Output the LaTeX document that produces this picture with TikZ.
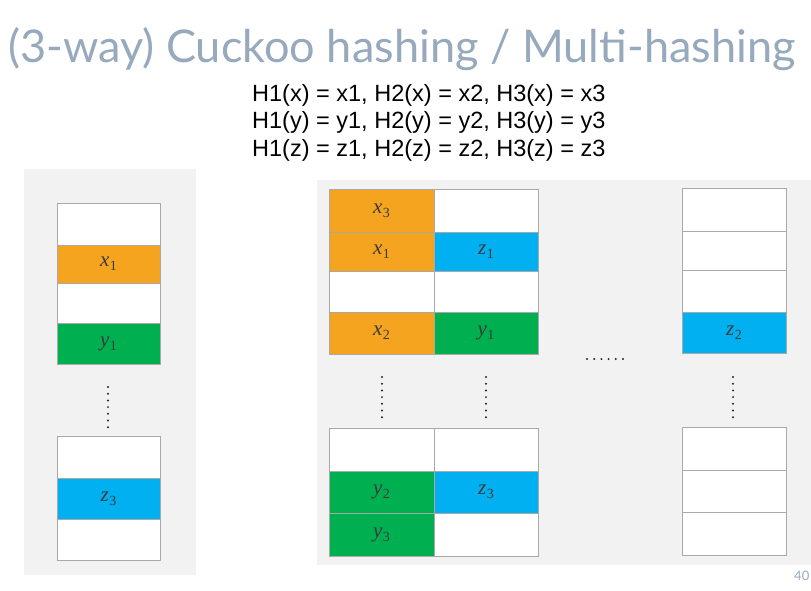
\documentclass[tikz,border=0pt]{standalone}
\usepackage{fontspec}
\newfontfamily\titlefont{Lato}
\newfontfamily\eqfont{Liberation Sans}
\newfontfamily\lblfont{Liberation Serif}
\definecolor{titlec}{HTML}{97AABD}
\definecolor{panelc}{HTML}{F2F2F2}
\definecolor{borderc}{HTML}{A9A9A9}
\definecolor{orangec}{HTML}{F4A41F}
\definecolor{greenc}{HTML}{00B050}
\definecolor{bluec}{HTML}{00B0F0}
\definecolor{labelc}{HTML}{3A3A3A}
\newcommand\lbl[2]{{\itshape #1}\kern0.5pt\raisebox{-0.2em}{\fontsize{14}{14}\selectfont #2}}
\tikzset{
  panel/.style={fill=panelc, draw=none},
  cell/.style={draw=borderc, line width=1pt, inner sep=0pt, outer sep=0pt, anchor=north west, text=labelc, font=\lblfont\fontsize{21}{21}\selectfont},
  wcell/.style={cell, fill=white},
  ocell/.style={cell, fill=orangec},
  gcell/.style={cell, fill=greenc},
  bcell/.style={cell, fill=bluec},
  vdots/.style={line width=2.2pt, line cap=round, dash pattern=on 0pt off 6.7pt, black!85},
}
% \cellat{style}{name}{x1}{y1}{x2}{y2}{label}
\newcommand\cellat[7]{\node[#1, minimum width={(#5-#3)*1pt}, minimum height={(#6-#4)*1pt}] (#2) at (#3,#4) {#7};}
\begin{document}
\begin{tikzpicture}[x=1pt, y=-1pt]
\useasboundingbox (0,0) rectangle (811,590);
\fill[white] (0,0) rectangle (811,590);
% title
\node[anchor=base west, inner sep=0pt, text=titlec, font=\titlefont\fontsize{45.1}{45.1}\selectfont] (title) at (8,62) {(3-way) Cuckoo hashing / Multi-hashing};
% equations
\node[anchor=base west, inner sep=0pt, font=\eqfont\fontsize{23.5}{23.5}\selectfont] (eq1) at (252,101.5) {H1(x) = x1, H2(x) = x2, H3(x) = x3};
\node[anchor=base west, inner sep=0pt, font=\eqfont\fontsize{23.5}{23.5}\selectfont] (eq2) at (252,128.5) {H1(y) = y1, H2(y) = y2, H3(y) = y3};
\node[anchor=base west, inner sep=0pt, font=\eqfont\fontsize{23.5}{23.5}\selectfont] (eq3) at (252,156) {H1(z) = z1, H2(z) = z2, H3(z) = z3};
% panels
\fill[panel] (24,169) rectangle (196,575);
\fill[panel] (317,180) rectangle (811,565);
% left table
\cellat{wcell}{L1}{57}{203}{160}{245}{}
\cellat{ocell}{L2}{57}{245}{160}{283}{\lbl{x}{1}}
\cellat{wcell}{L3}{57}{283}{160}{323}{}
\cellat{gcell}{L4}{57}{323}{160}{364}{\lbl{y}{1}}
\cellat{wcell}{L5}{57}{436}{160}{478}{}
\cellat{bcell}{L6}{57}{478}{160}{519}{\lbl{z}{3}}
\cellat{wcell}{L7}{57}{519}{160}{560}{}
% middle table
\cellat{ocell}{A1}{329}{189}{434}{232}{\lbl{x}{3}}
\cellat{wcell}{B1}{434}{189}{538}{232}{}
\cellat{ocell}{A2}{329}{232}{434}{271}{\lbl{x}{1}}
\cellat{bcell}{B2}{434}{232}{538}{271}{\lbl{z}{1}}
\cellat{wcell}{A3}{329}{271}{434}{312}{}
\cellat{wcell}{B3}{434}{271}{538}{312}{}
\cellat{ocell}{A4}{329}{312}{434}{354}{\lbl{x}{2}}
\cellat{gcell}{B4}{434}{312}{538}{354}{\lbl{y}{1}}
\cellat{wcell}{A5}{329}{428}{434}{471}{}
\cellat{wcell}{B5}{434}{428}{538}{471}{}
\cellat{gcell}{A6}{329}{471}{434}{513}{\lbl{y}{2}}
\cellat{bcell}{B6}{434}{471}{538}{513}{\lbl{z}{3}}
\cellat{gcell}{A7}{329}{513}{434}{556}{\lbl{y}{3}}
\cellat{wcell}{B7}{434}{513}{538}{556}{}
% right table
\cellat{wcell}{R1}{682}{188}{786}{231}{}
\cellat{wcell}{R2}{682}{231}{786}{270}{}
\cellat{wcell}{R3}{682}{270}{786}{312}{}
\cellat{bcell}{R4}{682}{312}{786}{353}{\lbl{z}{2}}
\cellat{wcell}{R5}{682}{427}{786}{470}{}
\cellat{wcell}{R6}{682}{470}{786}{512}{}
\cellat{wcell}{R7}{682}{512}{786}{555}{}
% dots
\coordinate (dL1) at (108,387); \coordinate (dL2) at (108,428);
\coordinate (dA1) at (382,377); \coordinate (dA2) at (382,418);
\coordinate (dB1) at (486,377); \coordinate (dB2) at (486,418);
\coordinate (dR1) at (733,377); \coordinate (dR2) at (733,418);
\coordinate (dH1) at (587,359); \coordinate (dH2) at (624,359);
\draw[vdots] (dL1) -- (dL2);
\draw[vdots] (dA1) -- (dA2);
\draw[vdots] (dB1) -- (dB2);
\draw[vdots] (dR1) -- (dR2);
\draw[vdots, dash pattern=on 0pt off 7.2pt] (dH1) -- (dH2);
% page number
\node[anchor=base west, inner sep=0pt, text=titlec, font=\titlefont\fontsize{13}{13}\selectfont] (pnum) at (794,580) {40};
\end{tikzpicture}
\end{document}
